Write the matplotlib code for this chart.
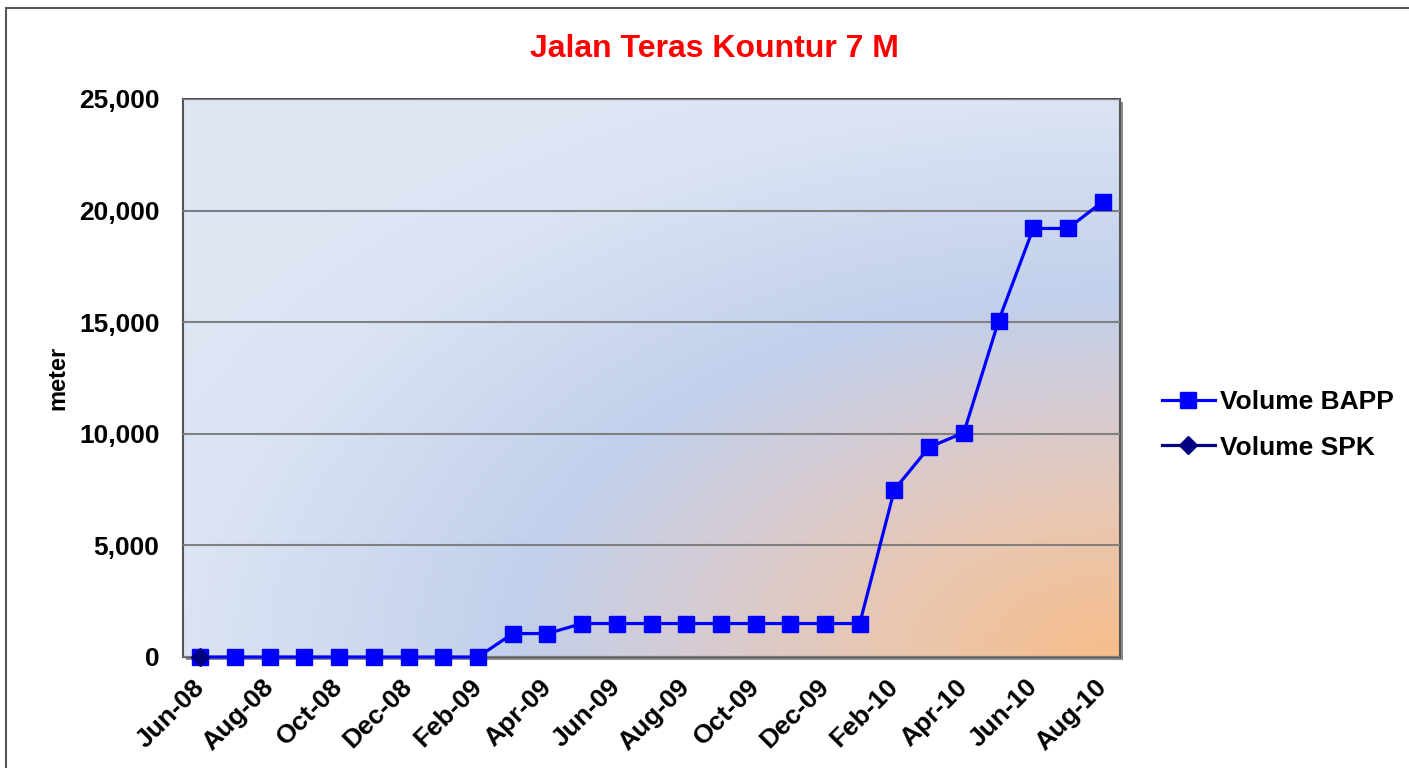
import numpy as np
import matplotlib
matplotlib.use("Agg")
import matplotlib.pyplot as plt
from matplotlib.patches import Rectangle

months = ["Jun-08", "Jul-08", "Aug-08", "Sep-08", "Oct-08", "Nov-08", "Dec-08", "Jan-09", "Feb-09",
          "Mar-09", "Apr-09", "May-09", "Jun-09", "Jul-09", "Aug-09", "Sep-09", "Oct-09", "Nov-09",
          "Dec-09", "Jan-10", "Feb-10", "Mar-10", "Apr-10", "May-10", "Jun-10", "Jul-10", "Aug-10"]
volume_bapp = [0, 0, 0, 0, 0, 0, 0, 0, 0,
               1050, 1050, 1500, 1500, 1500, 1500, 1500, 1500, 1500,
               1500, 1500, 7500, 9400, 10050, 15050, 19200, 19200, 20400]
volume_spk = [0] + [np.nan] * 26
yticks = [0, 5000, 10000, 15000, 20000, 25000]

plt.rcParams['font.family'] = ['Liberation Sans', 'DejaVu Sans']

fig = plt.figure(figsize=(14.09, 7.68), dpi=100)
fig.patches.append(Rectangle((6/1409, -0.1), 1.2, 1 - 8/768 + 0.1, transform=fig.transFigure,
                             fill=False, edgecolor='#555555', linewidth=1.5, zorder=0))

L, R, T, B = 183/1409, 1120/1409, 1-99/768, 1-657/768
# shadow
fig.patches.append(Rectangle((L + 3/1409, B - 3/768), R - L, T - B, transform=fig.transFigure,
                             facecolor='#8a8a8a', edgecolor='none', zorder=0))
ax = fig.add_axes([L, B, R - L, T - B])
ax.set_zorder(2)

# background gradient: radial (in axes-normalised coords) from bottom-right corner
h, w = 300, 500
yy, xx = np.mgrid[0:h, 0:w]
u = xx / (w - 1)
v = yy / (h - 1)  # 0 top
r = np.sqrt((1 - u) ** 2 + (1 - v) ** 2)
stops = [0.0, 0.25, 0.45, 0.65, 1.0, 1.5]
cols = np.array([[247, 189, 138], [233, 199, 177], [214, 203, 210], [193, 208, 236],
                 [220, 228, 243], [226, 232, 245]]) / 255.0
img = np.stack([np.interp(r, stops, cols[:, k]) for k in range(3)], axis=-1)
ax.imshow(img, extent=[0, 1, 0, 1], transform=ax.transAxes, aspect='auto', zorder=0,
          interpolation='bilinear')

x = np.arange(len(months))
ax.plot(x, volume_bapp, color='#0000ff', linewidth=2.3, marker='s', markersize=12,
        markeredgecolor='#0000ff', label='Volume BAPP', zorder=4, clip_on=False)
ax.plot(x, volume_spk, color='#000080', linewidth=2.3, marker='D', markersize=9,
        markeredgecolor='#000080', label='Volume SPK', zorder=5, clip_on=False)

ax.set_xlim(-0.5, len(months) - 0.5)
ax.set_ylim(0, 25000)
ax.set_yticks(yticks)
ax.set_yticklabels([f"{t:,}" for t in yticks], fontsize=19, fontweight='bold')
ax.set_xticks(x[::2])
ax.set_xticklabels(months[::2], rotation=45, ha='right', va='center', rotation_mode='anchor',
                   fontsize=19, fontweight='bold')
ax.tick_params(axis='y', length=0, pad=17)
ax.tick_params(axis='x', length=0, pad=19)
ax.yaxis.grid(True, color='#808080', linewidth=1.5, zorder=1)
ax.set_axisbelow(False)
for s in ax.spines.values():
    s.set_color('#555555')
    s.set_linewidth(1.5)
ax.set_ylabel('meter', fontsize=17, fontweight='bold', labelpad=7)

fig.text(714/1409, 1 - 49/768, 'Jalan Teras Kountur 7 M', color='#ff0000', fontsize=23,
         fontweight='bold', ha='center', va='center')

leg = fig.legend(loc='center left', bbox_to_anchor=(1138/1409, 1 - 425/768), frameon=False,
                 prop={'size': 19, 'weight': 'bold'}, handlelength=2.0, handletextpad=0.2,
                 labelspacing=0.8)

fig.savefig('out.png', dpi=100)
